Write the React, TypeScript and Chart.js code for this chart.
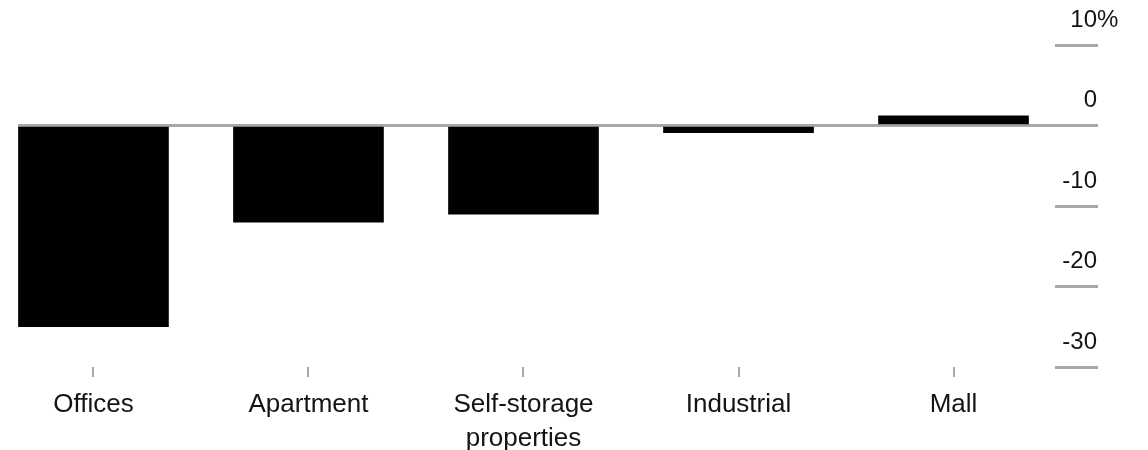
import React, { useEffect, useRef } from "react";
import { Chart, registerables } from "chart.js";

Chart.register(...registerables);

const categories: string[][] = [["Offices"], ["Apartment"], ["Self-storage", "properties"], ["Industrial"], ["Mall"]];
const values: number[] = [-25, -12, -11, -0.9, 1.2];
const yTickValues: number[] = [10, 0, -10, -20, -30];
const yTickLabels: string[] = ["10", "0", "-10", "-20", "-30"];

const FONT = '"Liberation Sans", Arial, sans-serif';
const TEXT = "#141414";
const GRID = "#a8a8a8";

const yLabelsPlugin = {
  id: "yLabels",
  afterDraw(chart: any) {
    const y = chart.scales.y;
    const ctx = chart.ctx;
    ctx.save();
    ctx.font = `24px ${FONT}`;
    ctx.fillStyle = TEXT;
    ctx.textBaseline = "middle";
    const xr = y.left + 42;
    yTickValues.forEach((v, i) => {
      const py = y.getPixelForValue(v) - 25;
      ctx.textAlign = "right";
      ctx.fillText(yTickLabels[i], xr, py);
      if (i === 0) {
        ctx.textAlign = "left";
        ctx.fillText("%", xr, py);
      }
    });
    ctx.restore();
  },
};

export default function App() {
  const ref = useRef<HTMLCanvasElement | null>(null);
  useEffect(() => {
    if (!ref.current) return;
    const chart = new Chart(ref.current, {
      type: "bar",
      data: {
        datasets: [
          {
            data: values.map((v, i) => ({ x: i, y: v })),
            backgroundColor: "#000000",
            borderWidth: 0,
            barThickness: 150,
          },
        ],
      },
      options: {
        responsive: false,
        animation: false,
        layout: { padding: { left: 18, right: 50, top: 45, bottom: 0 } },
        plugins: { legend: { display: false }, tooltip: { enabled: false } },
        scales: {
          x: {
            type: "linear",
            offset: false,
            min: -0.351,
            max: 4.472,
            afterBuildTicks: (axis: any) => {
              axis.ticks = categories.map((_, i) => ({ value: i }));
            },
            afterFit: (axis: any) => {
              axis.height = 83;
            },
            border: { display: false },
            grid: {
              offset: false,
              drawOnChartArea: false,
              drawTicks: true,
              tickLength: 10,
              color: GRID,
              lineWidth: 2,
            },
            ticks: {
              autoSkip: false,
              maxRotation: 0,
              padding: 11,
              color: TEXT,
              font: { family: FONT, size: 26, lineHeight: 1.3 },
              callback: (value: any) => categories[Number(value)] ?? "",
            },
          },
          y: {
            position: "right",
            min: -30,
            max: 10,
            afterBuildTicks: (axis: any) => {
              axis.ticks = yTickValues.map((v) => ({ value: v }));
            },
            border: { display: false },
            grid: {
              drawOnChartArea: true,
              drawTicks: true,
              tickLength: 43,
              lineWidth: 3,
              color: (c: any) => (c.tick && c.tick.value === 0 ? GRID : "rgba(0,0,0,0)"),
              tickColor: GRID,
            },
            ticks: { display: false },
          },
        },
      },
      plugins: [yLabelsPlugin],
    });
    return () => chart.destroy();
  }, []);
  return (
    <div style={{ position: "absolute", left: 0, top: 0, width: 1148, height: 450, overflow: "hidden", background: "#fff" }}>
      <canvas ref={ref} width={1148} height={450} style={{ display: "block" }} />
    </div>
  );
}
